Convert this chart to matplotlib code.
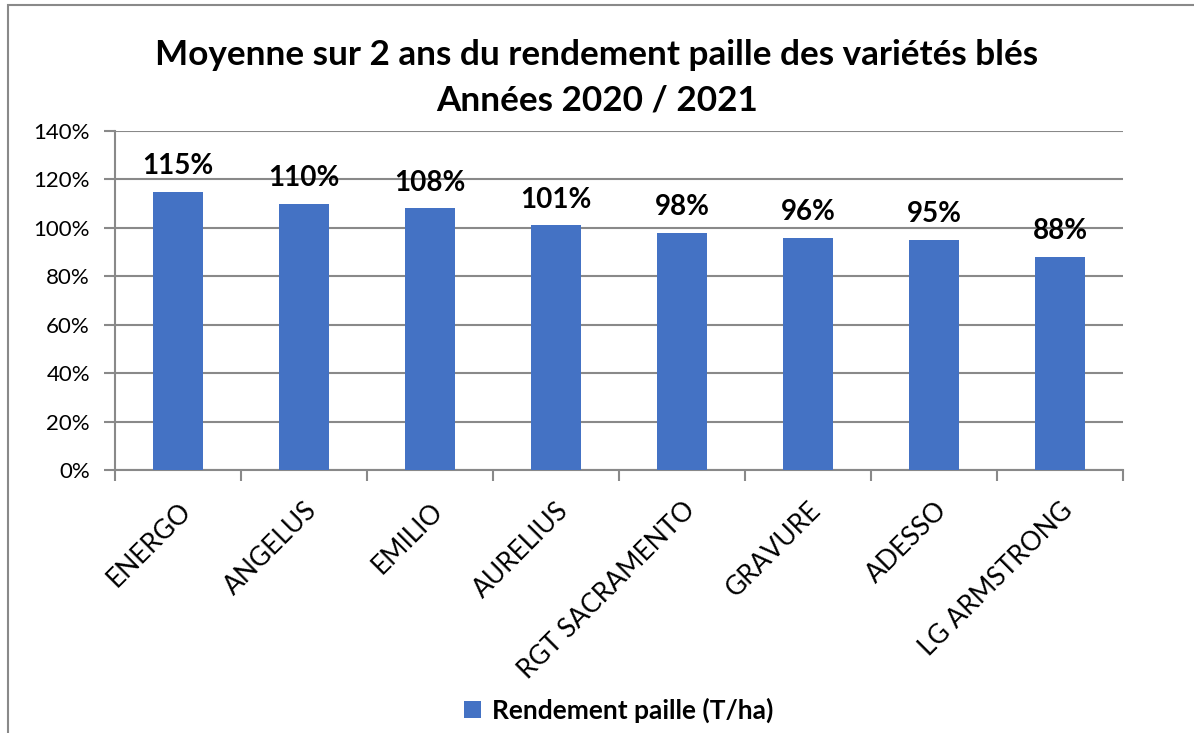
import matplotlib.pyplot as plt
from matplotlib.patches import Rectangle
from matplotlib.ticker import PercentFormatter

plt.rcParams['font.family'] = ['Lato', 'DejaVu Sans']

varietes = ["ENERGO", "ANGELUS", "EMILIO", "AURELIUS", "RGT SACRAMENTO",
            "GRAVURE", "ADESSO", "LG ARMSTRONG"]
rendement = [115, 110, 108, 101, 98, 96, 95, 88]
serie = "Rendement paille (T/ha)"

bleu = "#4472C4"
gris = "#898989"

fig = plt.figure(figsize=(11.94, 7.33), dpi=100)
ax = fig.add_axes([0.0963, 0.3588, 0.8442, 0.4625])

x = range(len(varietes))
bars = ax.bar(x, rendement, width=0.4, color=bleu, label=serie, zorder=3)

for xi, v in zip(x, rendement):
    ax.annotate(f"{v}%", (xi, v), xytext=(0, 9), textcoords="offset points",
                ha="center", va="bottom", fontsize=20, fontweight="bold")

ax.set_ylim(0, 140)
ax.set_xlim(-0.5, len(varietes) - 0.5)
ax.set_yticks(range(0, 141, 20))
ax.yaxis.set_major_formatter(PercentFormatter(decimals=0))
ax.grid(axis="y", color=gris, linewidth=1.5, zorder=0)

# categories: ticks at boundaries, labels at centres
ax.set_xticks([i - 0.5 for i in range(len(varietes) + 1)])
ax.set_xticklabels([])
ax.set_xticks(list(x), minor=True)
ax.set_xticklabels(varietes, minor=True, rotation=45, ha="right", va="top",
                   rotation_mode="anchor", fontsize=19)
ax.tick_params(axis="x", which="minor", length=0, pad=20)
ax.tick_params(axis="x", which="major", length=8, width=1.5, color=gris)
ax.tick_params(axis="y", length=8, width=1.5, color=gris, labelsize=16, pad=10)

for s in ["top", "right"]:
    ax.spines[s].set_visible(False)
for s in ["left", "bottom"]:
    ax.spines[s].set_color(gris)
    ax.spines[s].set_linewidth(1.5)

fig.text(0.5, 0.925, "Moyenne sur 2 ans du rendement paille des variétés blés",
         ha="center", va="center", fontsize=25.3, fontweight="bold")
fig.text(0.5, 0.863, "Années 2020 / 2021",
         ha="center", va="center", fontsize=25.3, fontweight="bold")

fig.legend(handles=[bars], labels=[serie], loc="center", bbox_to_anchor=(0.518, 0.031),
           frameon=False, prop={"size": 19, "weight": "bold"},
           handlelength=0.65, handleheight=0.65, handletextpad=0.4)

# chart area border (cropped right and bottom)
fig.patches.append(Rectangle((8 / 1194, -0.1), 1.2, 1 - 5 / 733 + 0.1,
                             transform=fig.transFigure, fill=False,
                             edgecolor=gris, linewidth=1.5))

fig.savefig("out.png", dpi=100)
